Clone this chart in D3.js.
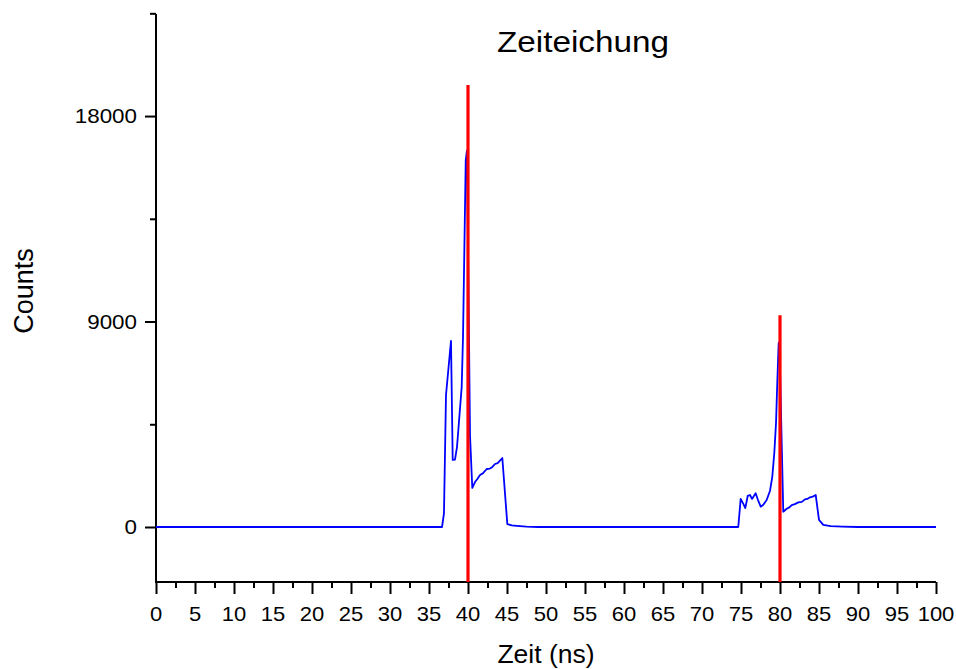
<!DOCTYPE html>
<html>
<head>
<meta charset="utf-8">
<script src="https://cdn.jsdelivr.net/npm/d3@7"></script>
<style>
  body { margin: 0; background: #fff; }
  text { font-family: "Liberation Sans", Arial, sans-serif; fill: #000; }
</style>
</head>
<body>
<svg id="chart" width="956" height="669"></svg>
<script>
// Zeit (ns) / Counts
const zeit = [0, 36.67, 36.92, 37.18, 37.82, 38.04, 38.33, 38.59, 39.19, 39.36, 39.71, 39.87,
  40.26, 40.55, 40.9, 41.2, 41.54, 41.9, 42.4, 42.8, 43.1, 43.46, 43.8, 44.4, 45.04, 45.6, 46.24, 47.5, 49,
  74.65, 74.96, 75.3, 75.55, 75.86, 76.15, 76.41, 76.88, 77.18, 77.53, 77.86, 78.29, 78.72, 79.01, 79.27,
  79.49, 79.65, 79.83, 79.92, 80.42, 80.86, 81.2, 81.5, 81.9, 82.35, 82.8, 83.2, 83.5, 83.85, 84.2, 84.58,
  85.0, 85.55, 86.5, 88, 90, 100]
const counts = [0, 0, 600, 5780, 8150, 2940, 2950, 3500, 6130, 8320, 16070, 16500,
  4000, 1710, 1970, 2100, 2280, 2350, 2540, 2560, 2620, 2760, 2800, 3020, 130, 70, 50, 20, 0,
  0, 1230, 1010, 830, 1360, 1400, 1230, 1480, 1180, 890, 970, 1180, 1590, 2200, 3240,
  4560, 6310, 8060, 8100, 670, 800, 860, 960, 1000, 1080, 1100, 1210, 1230, 1300, 1330, 1400,
  310, 90, 40, 20, 0, 0]

// Eichmarken (rot)
const markZeit = [40, 80]
const markCounts = [19360, 9280]

const xTicks = d3.range(0, 101, 5)
const xMinor = d3.range(2.5, 100, 5)
const yTicks = [0, 9000, 18000]
const yMinor = [4500, 13500, 22500]

const svg = d3.select('#chart')
const mLeft = 156, mRight = 936, mTop = 14, mBottom = 582

const x = d3.scaleLinear().domain([0, 100]).range([mLeft, mRight])
const y = d3.scaleLinear().domain([-2409, 22470]).range([mBottom, mTop])

// achsen
const xAxis = svg.append('g').attr('transform', `translate(0,${mBottom})`)
xAxis.call(d3.axisBottom(x).tickValues(xTicks).tickSize(12).tickPadding(0).tickFormat(() => ''))
xAxis.append('g').call(d3.axisBottom(x).tickValues(xMinor).tickSize(6).tickFormat(() => ''))
xAxis.selectAll('.domain').remove()
xAxis.selectAll('line').attr('stroke', '#000').attr('stroke-width', 2)

const yAxis = svg.append('g').attr('transform', `translate(${mLeft},0)`)
yAxis.call(d3.axisLeft(y).tickValues(yTicks).tickSize(11).tickFormat(() => ''))
yAxis.append('g').call(d3.axisLeft(y).tickValues(yMinor).tickSize(6).tickFormat(() => ''))
yAxis.selectAll('.domain').remove()
yAxis.selectAll('line').attr('stroke', '#000').attr('stroke-width', 2)

svg.append('line').attr('x1', mLeft).attr('x2', mLeft).attr('y1', mTop).attr('y2', mBottom + 1)
  .attr('stroke', '#000').attr('stroke-width', 2)
svg.append('line').attr('x1', mLeft - 1).attr('x2', mRight).attr('y1', mBottom).attr('y2', mBottom)
  .attr('stroke', '#000').attr('stroke-width', 2)

// tick labels (etwas breit gezogen wie im original)
xTicks.forEach((t) => {
  svg.append('g').attr('transform', `translate(${x(t)},621) scale(1.1,1)`)
    .append('text').attr('text-anchor', 'middle').attr('font-size', 20).text(t)
})
yTicks.forEach((t) => {
  svg.append('g').attr('transform', `translate(137,${y(t) + 7}) scale(1.12,1)`)
    .append('text').attr('text-anchor', 'end').attr('font-size', 20).text(t)
})

// daten
const line = d3.line().x((d, i) => x(zeit[i])).y((d) => y(d))
svg.append('path').attr('d', line(counts)).attr('fill', 'none')
  .attr('stroke', '#0000ff').attr('stroke-width', 1.8).attr('stroke-linejoin', 'round')

svg.selectAll('.mark').data(markZeit).join('line').attr('class', 'mark')
  .attr('x1', (d) => x(d)).attr('x2', (d) => x(d))
  .attr('y1', y.range()[0]).attr('y2', (d, i) => y(markCounts[i]))
  .attr('stroke', '#ff0000').attr('stroke-width', 3.2)

// titel + achsentitel
svg.append('text').attr('x', 583).attr('y', 52).attr('text-anchor', 'middle')
  .attr('font-size', 29).attr('textLength', 172).attr('lengthAdjust', 'spacingAndGlyphs').text('Zeiteichung')
svg.append('text').attr('x', 546).attr('y', 663).attr('text-anchor', 'middle')
  .attr('font-size', 26.5).text('Zeit (ns)')
svg.append('text').attr('transform', 'translate(33,291) rotate(-90)').attr('text-anchor', 'middle')
  .attr('font-size', 27).text('Counts')
</script>
</body>
</html>
